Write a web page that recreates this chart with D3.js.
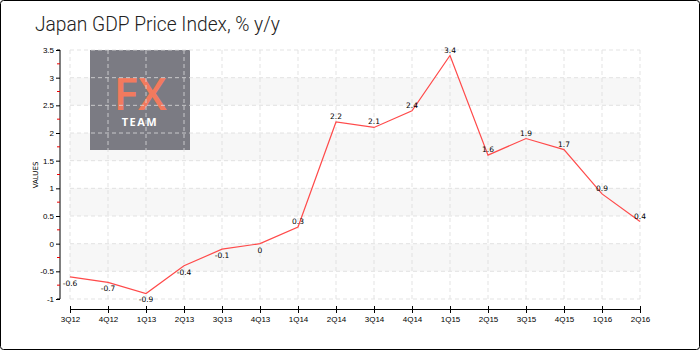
<!DOCTYPE html>
<html>
<head>
<meta charset="utf-8">
<script src="https://cdn.jsdelivr.net/npm/d3@7"></script>
<style>
	body { margin: 0; background: #fff; }
	svg { display: block; font-family: 'DejaVu Sans', sans-serif; }
	.tick text { fill: #000; }
</style>
</head>
<body>
<svg id="chart" width="700" height="350"></svg>
<script>
	var quarters = ['3Q12','4Q12','1Q13','2Q13','3Q13','4Q13','1Q14','2Q14','3Q14','4Q14','1Q15','2Q15','3Q15','4Q15','1Q16','2Q16'];
	var values = [-0.6, -0.7, -0.9, -0.4, -0.1, 0, 0.3, 2.2, 2.1, 2.4, 3.4, 1.6, 1.9, 1.7, 0.9, 0.4];
	var yTicks = [-1, -0.5, 0, 0.5, 1, 1.5, 2, 2.5, 3, 3.5];
	var yMinor = [-0.75, -0.25, 0.25, 0.75, 1.25, 1.75, 2.25, 2.75, 3.25];
	var bandStarts = [-0.5, 0.5, 1.5, 2.5];

	var svg = d3.select('#chart');

	// frame
	svg.append('rect').attr('x', 0.5).attr('y', 0.5).attr('width', 699).attr('height', 349)
		.attr('rx', 3).attr('fill', '#fff').attr('stroke', '#000');

	svg.append('text').attr('x', 35).attr('y', 31)
		.attr('font-size', 21).attr('font-family', "Roboto, sans-serif")
		.attr('font-weight', 300).attr('fill', '#222')
		.attr('textLength', 245).attr('lengthAdjust', 'spacingAndGlyphs')
		.text('Japan GDP Price Index, % y/y');

	var x = d3.scalePoint().domain(quarters).range([70, 640]);
	var y = d3.scaleLinear().domain([-1, 3.5]).range([299, 50]);

	// alternating bands
	svg.append('g').selectAll('rect').data(bandStarts).enter().append('rect')
		.attr('x', 70).attr('width', 570)
		.attr('y', function(d){ return y(d + 0.5); })
		.attr('height', function(d){ return y(d) - y(d + 0.5); })
		.attr('fill', '#f7f7f7');

	// logo
	var logo = svg.append('g');
	logo.append('rect').attr('x', 90).attr('y', 50).attr('width', 100).attr('height', 100).attr('fill', '#7b7b83');
	logo.append('text').attr('x', 140).attr('y', 110).attr('text-anchor', 'middle')
		.attr('font-size', 46).attr('font-weight', 600).attr('font-family', "'Open Sans', sans-serif")
		.attr('fill', '#f27a5e').text('FX');
	logo.append('text').attr('x', 140).attr('y', 126).attr('text-anchor', 'middle')
		.attr('font-size', 11).attr('font-weight', 'bold').attr('font-family', "'Open Sans', sans-serif")
		.attr('letter-spacing', 1.5).attr('fill', '#fff').text('TEAM');

	// grid
	var grid = svg.append('g').attr('stroke', '#ddd').attr('stroke-dasharray', '4,3').attr('opacity', 0.8);
	grid.selectAll('.v').data(quarters).enter().append('line')
		.attr('x1', function(d){ return x(d); }).attr('x2', function(d){ return x(d); })
		.attr('y1', 50).attr('y2', 299);
	grid.selectAll('.h').data(yTicks).enter().append('line')
		.attr('x1', 70).attr('x2', 640)
		.attr('y1', function(d){ return y(d); }).attr('y2', function(d){ return y(d); });

	// y axis
	var yAxis = svg.append('g').attr('transform', 'translate(60,0)')
		.call(d3.axisLeft(y).tickValues(yTicks).tickFormat(function(d){ return String(d); }).tickSize(4).tickPadding(2));
	yAxis.select('.domain').attr('d', 'M-3,50H0V299H-3');
	yAxis.selectAll('.tick line').attr('stroke', '#000');
	yAxis.selectAll('.tick text').attr('font-size', 8);
	yAxis.selectAll('.minor').data(yMinor).enter().append('line').attr('class', 'minor')
		.attr('x1', -3).attr('x2', 0)
		.attr('y1', function(d){ return y(d); }).attr('y2', function(d){ return y(d); })
		.attr('stroke', '#e00');

	svg.append('text').attr('transform', 'translate(38,175) rotate(-90)')
		.attr('text-anchor', 'middle').attr('font-size', 7).text('VALUES');

	// x axis
	var xAxis = svg.append('g').attr('transform', 'translate(0,309)')
		.call(d3.axisBottom(x).tickSize(4).tickPadding(3).tickSizeOuter(0));
	xAxis.selectAll('.tick line').attr('y1', -3).attr('stroke', '#000');
	xAxis.select('.domain').attr('stroke', '#000');
	xAxis.selectAll('.tick text').attr('font-size', 8);

	// line
	var line = d3.line()
		.x(function(d, i){ return x(quarters[i]); })
		.y(function(d){ return y(d); });
	svg.append('path').datum(values).attr('d', line)
		.attr('fill', 'none').attr('stroke', '#ff4a4a').attr('stroke-width', 1.2);

	// value labels: above positive points, below the rest
	svg.append('g').selectAll('text').data(values).enter().append('text')
		.attr('x', function(d, i){ return x(quarters[i]); })
		.attr('y', function(d){ return d > 0 ? y(d) - 3 : y(d) + 9; })
		.attr('text-anchor', 'middle').attr('font-size', 7.5).attr('fill', '#000')
		.text(function(d){ return d; });
</script>
</body>
</html>
